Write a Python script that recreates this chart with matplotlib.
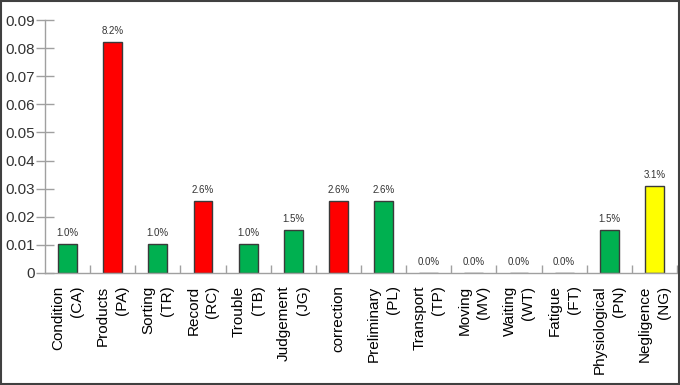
import numpy as np
import matplotlib
matplotlib.use("Agg")
import matplotlib.pyplot as plt
import matplotlib.patches as patches

# Data
names = ["Condition\n(CA)", "Products\n(PA)", "Sorting\n(TR)", "Record\n(RC)",
         "Trouble\n(TB)", "Judgement\n(JG)", "correction", "Preliminary\n(PL)",
         "Transport\n(TP)", "Moving\n(MV)", "Waiting\n(WT)", "Fatigue\n(FT)",
         "Physiological\n(PN)", "Negligence\n(NG)"]
values = [0.0103, 0.0821, 0.0103, 0.0256, 0.0103, 0.0154, 0.0256, 0.0256,
          0.0, 0.0, 0.0, 0.0, 0.0154, 0.0308]
labels = ["1.0%", "8.2%", "1.0%", "2.6%", "1.0%", "1.5%", "2.6%", "2.6%",
          "0.0%", "0.0%", "0.0%", "0.0%", "1.5%", "3.1%"]
colors = ["#00b050", "#ff0000", "#00b050", "#ff0000", "#00b050", "#00b050",
          "#ff0000", "#00b050", "#00b050", "#00b050", "#00b050", "#00b050",
          "#00b050", "#ffff00"]

plt.rcParams['font.family'] = ['Liberation Sans', 'DejaVu Sans']

fig = plt.figure(figsize=(6.8, 3.85), dpi=100)
ax = fig.add_axes([45/680, (385-273)/385, (677-45)/680, (273-20)/385])

x = np.arange(len(values))
ax.bar(x, values, width=0.42, color=colors, edgecolor="#3a3a3a", linewidth=1)

for xi, v, lab in zip(x, values, labels):
    ax.text(xi, v + 0.0022, lab, ha="center", va="bottom", fontsize=7,
            color="#333333")

ax.set_xlim(-0.5, len(values) - 0.5)
ax.set_ylim(0, 0.09)
ax.set_yticks(np.arange(0, 0.091, 0.01))
ax.set_yticklabels(["0"] + ["%.2f" % t for t in np.arange(0.01, 0.091, 0.01)])

ax.set_xticks(x)
ax.set_xticklabels(names, rotation=90, va="top", ha="center",
                   multialignment="right", fontsize=11, color="black",
                   linespacing=1.45)
ax.tick_params(axis="x", which="major", length=0, pad=9)
ax.set_xticks(np.arange(0.5, len(values), 1), minor=True)
ax.tick_params(axis="x", which="minor", direction="in", length=6,
               color="#a0a0a0", width=1)
ax.tick_params(axis="y", direction="inout", length=13, color="#a0a0a0",
               width=1, labelsize=11, labelcolor="#333333", pad=1)

for side in ["top", "right"]:
    ax.spines[side].set_visible(False)
for side in ["left", "bottom"]:
    ax.spines[side].set_color("#a0a0a0")
    ax.spines[side].set_linewidth(1)

# outer frame round the whole picture
border = patches.Rectangle((0.001, 0.002), 0.997, 0.995, transform=fig.transFigure,
                           fill=False, edgecolor="#404040", linewidth=1.5)
fig.patches.append(border)

fig.savefig("out.png", dpi=100)
